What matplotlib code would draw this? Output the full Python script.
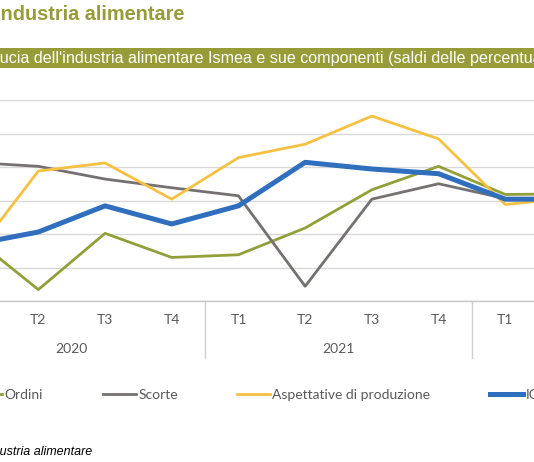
import matplotlib
matplotlib.use("Agg")
import matplotlib.pyplot as plt
import matplotlib.transforms as mtransforms
from matplotlib.patches import Rectangle
import numpy as np

# quarters shown on the category axis (first and last fall outside the crop)
quarters = ["T1", "T2", "T3", "T4", "T1", "T2", "T3", "T4", "T1", "T2"]
years = ["2020", "2021", "2022"]
year_groups = [(0, 3), (4, 7), (8, 11)]  # first / last index in each year

# saldi
ordini = [-10.3, -18.3, -9.9, -13.5, -13.1, -9.1, -3.4, 0.1, -4.1, -4.0]
scorte = [0.7, 0.1, -1.8, -3.1, -4.3, -17.8, -4.8, -2.5, -4.7, -4.8]
aspettative = [-13.6, -0.6, 0.6, -4.8, 1.4, 3.4, 7.6, 4.2, -5.6, -4.6]
ici = [-11.6, -9.7, -5.8, -8.5, -5.8, 0.7, -0.3, -1.0, -4.8, -4.8]

W, H = 534, 462
olive = "#979b38"
fig = plt.figure(figsize=(W / 100, H / 100), dpi=100)
r = fig.canvas.get_renderer()


def cut_text(full, prefix, y, **kw):
    # place `full` so that `prefix` falls just left of the crop
    tmp = fig.text(0, 0, prefix, **kw)
    off = tmp.get_window_extent(r).width
    tmp.remove()
    fig.text(-off / W, y, full, ha="left", va="center", **kw)


# plot area runs past both edges of the crop
ax = fig.add_axes([-61.7 / W, 1 - 301 / H, 667 / W, 201 / H])
x = np.arange(len(quarters))

lines = []
lines += ax.plot(x, ordini, color="#93a03a", lw=2.0, label="Ordini")
lines += ax.plot(x, scorte, color="#767171", lw=2.0, label="Scorte")
lines += ax.plot(x, aspettative, color="#f6c143", lw=2.0, label="Aspettative di produzione")
lines += ax.plot(x, ici, color="#2f6fbe", lw=3.6, label="ICI")

ax.set_xlim(-0.5, len(quarters) - 0.5)
ax.set_ylim(-20, 10)
ax.set_yticks(np.arange(-20, 11, 5))
ax.yaxis.grid(True, color="#d9d9d9", lw=1)
ax.set_axisbelow(True)
for s in ["left", "right", "top"]:
    ax.spines[s].set_visible(False)
ax.spines["bottom"].set_color("#c6c6c6")
ax.spines["bottom"].set_linewidth(1)
ax.tick_params(axis="y", left=False, labelleft=False)

tick_font = dict(family="Lato", size=10, color="#595959")
ax.set_xticks(x)
ax.set_xticklabels(quarters, **tick_font)
ax.tick_params(axis="x", length=0, pad=9)

# second level of the category axis: years and separators
trans = mtransforms.blended_transform_factory(ax.transData, ax.transAxes)
for yr, (a, b) in zip(years, year_groups):
    ax.text((a + b) / 2, -0.24, yr, transform=trans, ha="center", va="center",
            **tick_font)
for b in [3.5, 7.5]:
    ax.plot([b, b], [0, -0.284], transform=trans, color="#d0d0d0", lw=1,
            clip_on=False)

# legend: Excel spaces the entries on a fixed grid, so one legend per entry
legend_x = [-31, 103, 237, 490]
for ln, lx in zip(lines, legend_x):
    fig.legend(handles=[ln], loc="center left", bbox_to_anchor=(lx / W, 1 - 395 / H),
               frameon=False, borderpad=0, borderaxespad=0, handlelength=2.4,
               handletextpad=0.15, prop=dict(family="Lato", size=10),
               labelcolor="#595959")

# header
cut_text("Industria alimentare", "I", 1 - 15 / H, family="Liberation Sans",
         weight="bold", size=14.3, color=olive)
fig.patches.append(Rectangle((0, 1 - 68 / H), 1, 20 / H, transform=fig.transFigure,
                             facecolor=olive, edgecolor="none"))
cut_text("Indice di fiducia dell'industria alimentare Ismea e sue componenti "
         "(saldi delle percentuali)", "Indice di fid", 1 - 58 / H,
         family="Liberation Sans", size=11.65, color="white")

# source note
cut_text("Fonte: Ismea, Panel industria alimentare", "Fonte: Ismea, Panel ind",
         1 - 451 / H, family="Liberation Sans", style="italic", size=9,
         color="#000000")

fig.savefig("out.png", dpi=100)
